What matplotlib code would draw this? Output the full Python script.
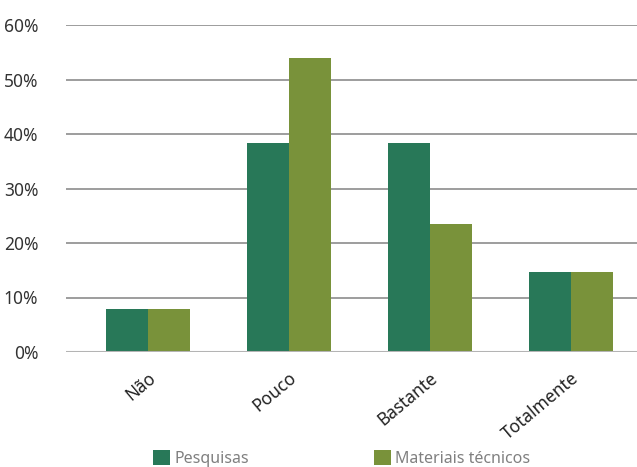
import matplotlib
matplotlib.use("Agg")
import matplotlib.pyplot as plt
import matplotlib.transforms as mtransforms
import numpy as np

plt.rcParams['font.family'] = ['Noto Sans', 'DejaVu Sans']

# data (percent)
categories = ["Não", "Pouco", "Bastante", "Totalmente"]
pesquisas = [7.8, 38.3, 38.3, 14.7]
materiais = [7.8, 53.9, 23.5, 14.7]
series_names = ["Pesquisas", "Materiais técnicos"]
y_ticks = [0, 10, 20, 30, 40, 50, 60]

dark_green = "#287858"
olive = "#79923a"

fig = plt.figure(figsize=(6.37, 4.67), dpi=100)
ax = fig.add_axes([66 / 637, 1 - 352 / 467, 1 - 66 / 637, (352 - 25) / 467])

x = np.arange(len(categories))
w = 0.298
ax.bar(x - w / 2, pesquisas, w, color=dark_green, label=series_names[0], zorder=3)
ax.bar(x + w / 2, materiais, w, color=olive, label=series_names[1], zorder=3)

ax.set_ylim(0, 60)
ax.set_xlim(-0.581, 3.471)
ax.set_yticks(y_ticks)
ax.set_yticklabels([f"{t}%" for t in y_ticks], fontsize=12.5, color="#333333")
for t in y_ticks[1:]:
    ax.axhline(t, color="#8c8c8c", lw=1.2, zorder=1)
ax.axhline(0, color="#b4b4b4", lw=2.2, zorder=4)

ax.set_xticks(x)
ax.set_xticklabels(categories, fontsize=12.5, color="#222222", rotation=40,
                   ha="right", va="top", rotation_mode="anchor")
offset = mtransforms.ScaledTranslation(6 / 100, 0, fig.dpi_scale_trans)
for lbl in ax.get_xticklabels():
    lbl.set_transform(lbl.get_transform() + offset)

ax.tick_params(axis="both", length=0)
ax.tick_params(axis="y", pad=20)
ax.tick_params(axis="x", pad=12)
for s in ax.spines.values():
    s.set_visible(False)

leg = fig.legend(loc="upper left", bbox_to_anchor=(153 / 637, 1 - 450 / 467),
                 ncol=2, frameon=False, fontsize=11.5, borderpad=0, borderaxespad=0,
                 handlelength=1.05, handleheight=1.05, handletextpad=0.3,
                 columnspacing=7.8)
for txt in leg.get_texts():
    txt.set_color("#808080")

fig.savefig("out.png", dpi=100)
